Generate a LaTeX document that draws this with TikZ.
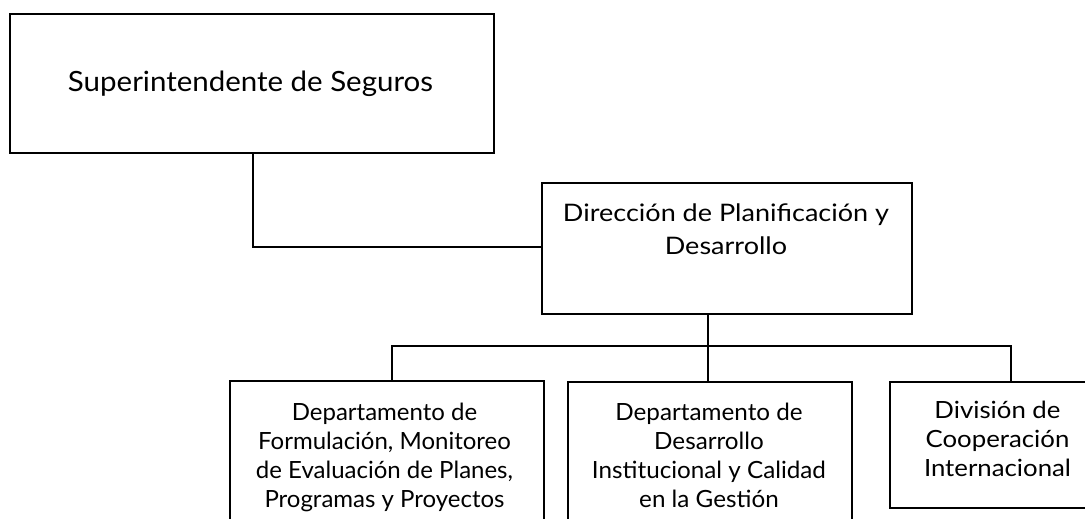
\documentclass[tikz,border=0pt]{standalone}
\usepackage{fontspec}
\usepackage{graphicx}
\setmainfont{Lato}
\newcommand\fitw[2]{\resizebox{#1}{\height}{\begin{tabular}{@{}c@{}}#2\end{tabular}}}
\begin{document}
\begin{tikzpicture}[x=1pt,y=-1pt,
  box/.style={draw=black, line width=1.8pt, rectangle, inner sep=0pt, anchor=north west},
  wire/.style={draw=black, line width=1.9pt},
  toptxt/.style={inner sep=0pt, font=\fontsize{27.9}{34}\selectfont},
  dirtxt/.style={inner sep=0pt, font=\fontsize{24.1}{33}\selectfont},
  subtxt/.style={inner sep=0pt, font=\fontsize{23.7}{29}\selectfont}]
\useasboundingbox (0,0) rectangle (1085,519);
\clip (0,0) rectangle (1085,519);
\fill[white] (0,0) rectangle (1085,519);
% boxes
\node[box, minimum width=484pt, minimum height=139pt] (top) at (9,13) {};
\node[box, minimum width=370pt, minimum height=131pt] (dir) at (541,182) {};
\node[box, minimum width=314pt, minimum height=160pt] (b1) at (229,380) {};
\node[box, minimum width=284pt, minimum height=160pt] (b2) at (567,381) {};
\node[box, minimum width=230pt, minimum height=126pt] (b3) at (889,381) {};
% texts
\node[toptxt, anchor=base] (topT) at (250.5,92) {\resizebox{365pt}{\height}{Superintendente de Seguros}};
\node[dirtxt] (dirT) at (726,230.9) {\fitw{326pt}{Dirección de Planificación y\\Desarrollo}};
\node[subtxt] (b1T) at (384.5,457.7) {\fitw{257pt}{Departamento de\\Formulación, Monitoreo\\de Evaluación de Planes,\\Programas y Proyectos}};
\node[subtxt] (b2T) at (709,458.2) {\fitw{234pt}{Departamento de\\Desarrollo\\Institucional y Calidad\\en la Gestión}};
\node[subtxt] (b3T) at (997.5,441.7) {\fitw{147pt}{División de\\Cooperación\\Internacional}};
% connectors
\coordinate (j1) at (253,247);
\coordinate (j2) at (708,346);
\coordinate (busL) at (392,346);
\coordinate (busR) at (1011,346);
\draw[wire] (top.south -| j1) -- (j1) -- (dir.west |- j1);
\draw[wire] (dir.south -| j2) -- (b2.north -| j2);
\draw[wire] (b1.north -| busL) -- (busL) -- (busR) -- (b3.north -| busR);
\end{tikzpicture}
\end{document}
